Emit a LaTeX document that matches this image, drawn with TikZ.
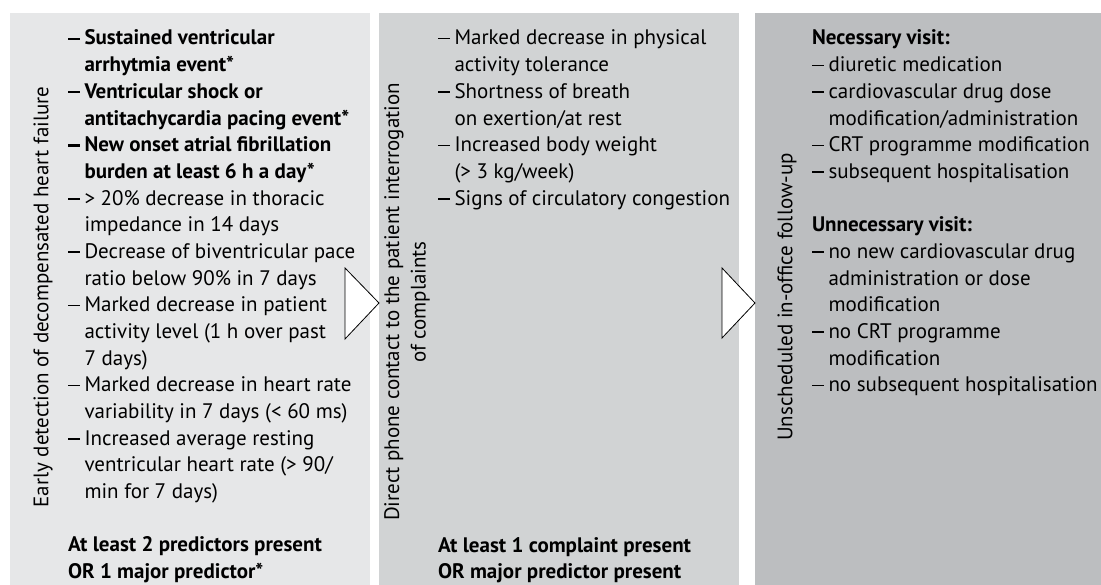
\documentclass[tikz,border=0pt]{standalone}
\usepackage{fontspec}
\setmainfont{PT Sans}
\definecolor{pone}{HTML}{E6E7E8}
\definecolor{ptwo}{HTML}{D1D3D4}
\definecolor{pthree}{HTML}{BCBEC0}
\newcommand{\ldash}{\rule[5.5pt]{12pt}{1.5pt}}
\newcommand{\lbdash}{\rule[5pt]{12pt}{2.2pt}}
\newcommand{\litem}[1]{\hbox{\makebox[16.5pt][l]{\ldash}#1}}
\newcommand{\lbitem}[1]{\hbox{\bfseries\makebox[16.5pt][l]{\lbdash}#1}}
\newcommand{\lcont}[1]{\hbox{\hspace*{16.5pt}#1}}
\newcommand{\lplain}[1]{\hbox{#1}}
\newcommand{\lblank}{\hbox{}}
\newcommand{\lstack}[1]{\vtop{\baselineskip=26.67pt\lineskiplimit=-20pt #1}}
\begin{document}
\begin{tikzpicture}[x=1pt,y=-1pt,
  every node/.style={inner sep=0pt,outer sep=0pt,font=\fontsize{21}{26.67}\selectfont},
  panel/.style={anchor=north west,minimum height=572pt},
  listtext/.style={anchor=base west},
  sidelabel/.style={rotate=90,align=center},
  arrowhead/.style={draw=black,fill=white,line width=0.8pt,line join=miter}]
\useasboundingbox (0,0) rectangle (1101,585);
\fill[white] (0,0) rectangle (1101,585);
% panels
\node[panel,fill=pone,minimum width=360pt] (p1) at (10,13) {};
\node[panel,fill=ptwo,minimum width=360pt] (p2) at (379,13) {};
\node[panel,fill=pthree,minimum width=346pt] (p3) at (755,13) {};
% side labels
\node[sidelabel] (lab1) at (43,297) {Early detection of decompensated heart failure};
\node[sidelabel] (lab2) at (407,302) {Direct phone contact to the patient interrogation\\of complaints};
\node[sidelabel] (lab3) at (787,297) {Unscheduled in-office follow-up};
% panel 1 list
\node[listtext] (list1) at (68,45) {\lstack{%
  \lbitem{Sustained ventricular}%
  \lcont{\bfseries arrhytmia event*}%
  \lbitem{Ventricular shock or}%
  \lcont{\bfseries antitachycardia pacing event*}%
  \lbitem{New onset atrial fibrillation}%
  \lcont{\bfseries burden at least 6 h a day*}%
  \litem{> 20\% decrease in thoracic}%
  \lcont{impedance in 14 days}%
  \litem{Decrease of biventricular pace}%
  \lcont{ratio below 90\% in 7 days}%
  \litem{Marked decrease in patient}%
  \lcont{activity level (1 h over past}%
  \lcont{7 days)}%
  \litem{Marked decrease in heart rate}%
  \lcont{variability in 7 days (< 60 ms)}%
  \litem{Increased average resting}%
  \lcont{ventricular heart rate (> 90/}%
  \lcont{min for 7 days)}%
  \lblank
  \lplain{\bfseries At least 2 predictors present}%
  \lplain{\bfseries OR 1 major predictor*}}};
% panel 2 list
\node[listtext] (list2) at (438,45) {\lstack{%
  \litem{Marked decrease in physical}%
  \lcont{activity tolerance}%
  \litem{Shortness of breath}%
  \lcont{on exertion/at rest}%
  \litem{Increased body weight}%
  \lcont{(> 3 kg/week)}%
  \litem{Signs of circulatory congestion}}};
\node[listtext] (cond2) at (438,552) {\lstack{%
  \lplain{\bfseries At least 1 complaint present}%
  \lplain{\bfseries OR major predictor present}}};
% panel 3 list
\node[listtext] (list3) at (812,45) {\lstack{%
  \lplain{\bfseries Necessary visit:}%
  \litem{diuretic medication}%
  \litem{cardiovascular drug dose}%
  \lcont{modification/administration}%
  \litem{CRT programme modification}%
  \litem{subsequent hospitalisation}%
  \lblank
  \lplain{\bfseries Unnecessary visit:}%
  \litem{no new cardiovascular drug}%
  \lcont{administration or dose}%
  \lcont{modification}%
  \litem{no CRT programme}%
  \lcont{modification}%
  \litem{no subsequent hospitalisation}}};
% arrows
\draw[arrowhead] (345,268) -- (p2.west |- 0,303) -- (345,339) -- cycle;
\draw[arrowhead] (722,268) -- (p3.west |- 0,303) -- (722,338) -- cycle;
\end{tikzpicture}
\end{document}
